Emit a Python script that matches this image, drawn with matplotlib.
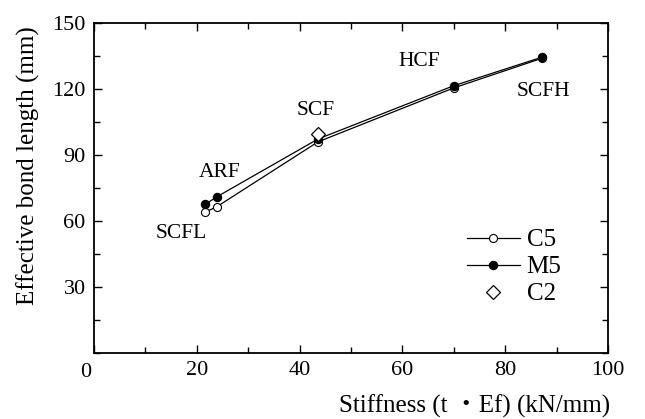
import numpy as np
import matplotlib.pyplot as plt
from matplotlib.ticker import MultipleLocator

plt.rcParams['font.family'] = ['Liberation Serif', 'DejaVu Serif']

# data
stiff = [21.6, 23.9, 43.6, 70.0, 87.2]
c5 = [64.0, 66.5, 96.0, 120.5, 134.0]
m5 = [67.5, 71.0, 97.3, 121.5, 134.5]
c2_x = [43.6]
c2_y = [99.5]
names = ['SCFL', 'ARF', 'SCF', 'HCF', 'SCFH']
name_pos = [(17.0, 54.5), (24.5, 82.0), (43.1, 110.0), (63.3, 132.5), (87.5, 119.0)]
xticks = [0, 20, 40, 60, 80, 100]
yticks = [30, 60, 90, 120, 150]

fig = plt.figure(figsize=(6.45, 4.19), dpi=100)
ax = fig.add_axes([94/645, 1-353/419, 514/645, 330/419])

ax.plot(stiff, c5, '-', color='black', lw=0.9, marker='o', ms=5.8,
        mfc='white', mec='black', mew=0.8, label='C5', zorder=3)
ax.plot(stiff, m5, '-', color='black', lw=0.9, marker='o', ms=5.8,
        mfc='black', mec='black', label='M5', zorder=3)
ax.plot(c2_x, c2_y, ls='none', marker='D', ms=7.5, mfc='white',
        mec='black', mew=0.9, label='C2', zorder=4)

for n, (x, y) in zip(names, name_pos):
    ax.text(x, y, n, fontsize=15.5, ha='center', va='center')

ax.set_xlim(0, 100)
ax.set_ylim(0, 150)
ax.set_xticks(xticks)
ax.set_xticklabels([''] + [str(t) for t in xticks[1:]])
ax.xaxis.set_minor_locator(MultipleLocator(10))
ax.set_yticks(yticks)
ax.yaxis.set_minor_locator(MultipleLocator(15))
ax.tick_params(which='both', direction='in', top=True, right=True,
               labelsize=16, width=1.0)
ax.tick_params(which='major', length=6, pad=6)
ax.tick_params(which='minor', length=4)
for s in ax.spines.values():
    s.set_linewidth(1.3)

# the origin label sits a little left of the corner
ax.text(-0.016, -0.03, '0', transform=ax.transAxes, fontsize=16,
        ha='center', va='top')

ax.set_xlabel('Stiffness (t \u30fbEf) (kN/mm)', fontsize=18,
              family=['Liberation Serif', 'Noto Sans CJK JP'])
ax.xaxis.set_label_coords(1.004, -0.125)
ax.xaxis.label.set_horizontalalignment('right')
ax.set_ylabel('Effective bond length (mm)', fontsize=18)
ax.yaxis.set_label_coords(-0.105, 0.567)

ax.legend(loc='upper left', bbox_to_anchor=(0.716, 0.391), frameon=False,
          fontsize=18, handlelength=2.1, handletextpad=0.28,
          labelspacing=0.18, borderpad=0.2, borderaxespad=0)

fig.savefig('out.png', dpi=100)
